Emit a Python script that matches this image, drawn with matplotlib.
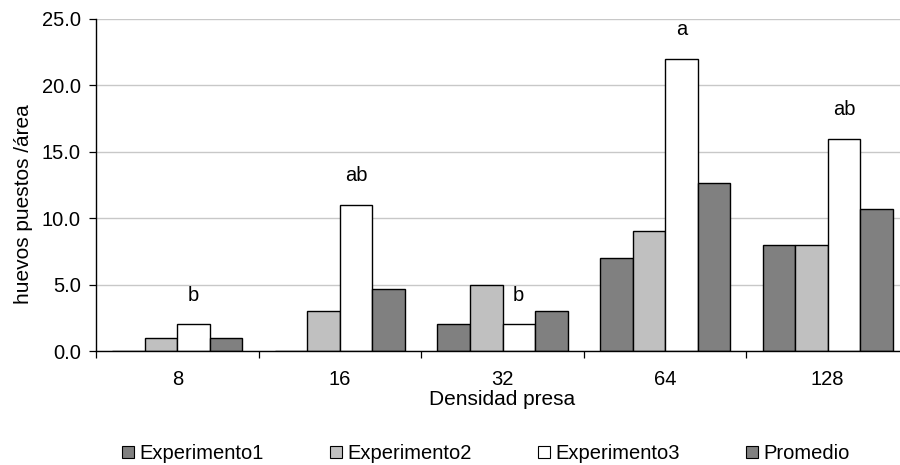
import numpy as np
import matplotlib.pyplot as plt
from matplotlib.lines import Line2D

plt.rcParams['font.family'] = ['Liberation Sans', 'DejaVu Sans']

# data
densidad = ['8', '16', '32', '64', '128']
exp1 = [0, 0, 2, 7, 8]
exp2 = [1, 3, 5, 9, 8]
exp3 = [2, 11, 2, 22, 16]
promedio = [1.0, 4.67, 3.0, 12.67, 10.67]
letras = ['b', 'ab', 'b', 'a', 'ab']

series = [('Experimento1', exp1, '#808080'),
          ('Experimento2', exp2, '#c0c0c0'),
          ('Experimento3', exp3, '#ffffff'),
          ('Promedio', promedio, '#808080')]

fs = 14.5
fig = plt.figure(figsize=(9, 4.65), dpi=100)
ax = fig.add_axes([96/900, 1 - 351/465, 813/900, 332/465])

x = np.arange(len(densidad))
w = 0.2
for i, (name, vals, col) in enumerate(series):
    ax.bar(x + (i - 1.5) * w, vals, w, color=col, edgecolor='black',
           linewidth=1.0, label=name, zorder=3)

# significance letters above Experimento3
for xi, v, t in zip(x, exp3, letras):
    ax.text(xi + 0.5 * w, v + 2.2, t, ha='center', va='center', fontsize=fs)

ax.set_xlim(-0.5, len(densidad) - 0.5)
ax.set_ylim(0, 25)
yt = np.arange(0, 26, 5)
ax.set_yticks(yt)
ax.set_yticklabels([f'{v:.1f}' for v in yt], fontsize=fs)
ax.set_xticks(x)
ax.set_xticklabels(densidad, fontsize=fs)
ax.set_xticks(np.arange(-0.5, len(densidad), 1), minor=True)
ax.tick_params(axis='x', which='major', length=0, pad=14)
ax.tick_params(axis='x', which='minor', length=5, direction='out', width=0.9)
ax.tick_params(axis='y', length=5, direction='out', width=0.9, pad=6)
ax.yaxis.grid(True, color='#c8c8c8', linewidth=1.0, zorder=0)
ax.set_axisbelow(True)
for s in ['top', 'right']:
    ax.spines[s].set_visible(False)
for s in ['left', 'bottom']:
    ax.spines[s].set_linewidth(1.0)
    ax.spines[s].set_zorder(4)

ax.set_xlabel('Densidad presa', fontsize=15, labelpad=0.5)
ax.set_ylabel('huevos puestos /área', fontsize=15)
ax.yaxis.set_label_coords(-0.077, 0.443)

handles = [Line2D([], [], marker='s', linestyle='none', markersize=8,
                  markerfacecolor=c, markeredgecolor='black', markeredgewidth=0.8)
           for _, _, c in series]
fig.legend(handles, [n for n, _, _ in series], loc='center', ncol=4,
           bbox_to_anchor=(0.54, 0.025), frameon=False, fontsize=fs,
           handlelength=0.6, handletextpad=0.25, columnspacing=3.3,
           borderpad=0.1)

fig.savefig('out.png', dpi=100)
